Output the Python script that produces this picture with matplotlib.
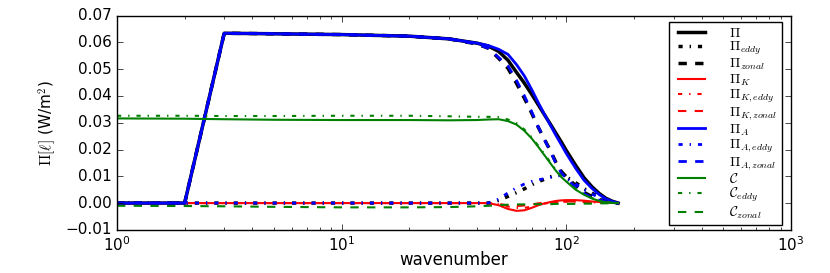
#!/usr/bin/env python3
# -*- coding=utf-8 -*-
import matplotlib
matplotlib.use('Agg')
from matplotlib import pyplot as plt

plt.style.use('classic')
plt.rcParams['mathtext.fontset'] = 'cm'
plt.rcParams['font.family'] = ['DejaVu Sans']

# wavenumber grid
k = [1, 2, 3, 5, 10, 20, 30, 40, 45, 50, 55, 60, 65, 70, 75, 80, 85, 90,
     95, 100, 110, 120, 130, 140, 150, 160, 170]

# total flux and eddy / zonal parts
pi_tot = [0, 0, 0.0634, 0.0632, 0.0629, 0.0623, 0.0613, 0.0597, 0.0586, 0.0566,
          0.0533, 0.0488, 0.0448, 0.0407, 0.0367, 0.0329, 0.0294, 0.0260,
          0.0228, 0.0196, 0.0141, 0.0094, 0.0061, 0.0036, 0.0018, 0.0007, 0]
pi_eddy = [0, 0, 0, 0, 0, 0, 0, 0, 0, 0.0010, 0.0025, 0.0039, 0.0053, 0.0068,
           0.0080, 0.0089, 0.0098, 0.0105, 0.0108, 0.0098, 0.0076, 0.0054,
           0.0037, 0.0023, 0.0012, 0.0005, 0]
pi_zonal = [0, 0, 0.0634, 0.0632, 0.0629, 0.0623, 0.0613, 0.0594, 0.0578, 0.0540,
            0.0503, 0.0447, 0.0392, 0.0337, 0.0283, 0.0237, 0.0195, 0.0151,
            0.0118, 0.0098, 0.0065, 0.0040, 0.0024, 0.0013, 0.0006, 0.0002, 0]

# kinetic part
pik = [0, 0, 0, 0, 0, 0, 0, 0, 0, -0.0008, -0.0022, -0.0029, -0.0027, -0.0018,
       -0.0008, -0.0001, 0.0004, 0.0008, 0.0010, 0.0011, 0.0011, 0.0009,
       0.0006, 0.0004, 0.0002, 0.0001, 0]
pik_eddy = [0, 0, 0, 0, 0, 0, 0, 0, 0, -0.0005, -0.0013, -0.0018, -0.0018,
            -0.0013, -0.0007, -0.0002, 0.0002, 0.0004, 0.0005, 0.0005, 0.0005,
            0.0004, 0.0003, 0.0002, 0.0001, 0, 0]
pik_zonal = [0, 0, 0, 0, 0, 0, 0, 0, 0, -0.0003, -0.0009, -0.0011, -0.0009,
             -0.0005, -0.0001, 0.0001, 0.0002, 0.0004, 0.0005, 0.0006, 0.0006,
             0.0005, 0.0003, 0.0002, 0.0001, 0.0001, 0]

# available potential part
pia = [0, 0, 0.0634, 0.0632, 0.0629, 0.0623, 0.0613, 0.0597, 0.0588, 0.0574,
       0.0555, 0.0517, 0.0475, 0.0425, 0.0375, 0.0330, 0.0290, 0.0252,
       0.0218, 0.0185, 0.0130, 0.0085, 0.0055, 0.0032, 0.0016, 0.0006, 0]
pia_eddy = [0, 0, 0, 0, 0, 0, 0, 0, 0, 0.0015, 0.0038, 0.0057, 0.0071, 0.0081,
            0.0087, 0.0091, 0.0096, 0.0101, 0.0103, 0.0093, 0.0071, 0.0050,
            0.0034, 0.0021, 0.0011, 0.0005, 0]
pia_zonal = [0, 0, 0.0634, 0.0632, 0.0629, 0.0623, 0.0613, 0.0594, 0.0578, 0.0543,
             0.0512, 0.0458, 0.0401, 0.0342, 0.0284, 0.0236, 0.0193, 0.0147,
             0.0113, 0.0092, 0.0059, 0.0035, 0.0021, 0.0011, 0.0005, 0.0001, 0]

# conversion
conv = [0.0316, 0.0315, 0.0313, 0.0311, 0.0310, 0.0310, 0.0309, 0.0310, 0.0312,
        0.0313, 0.0306, 0.0293, 0.0270, 0.0242, 0.0210, 0.0178, 0.0148, 0.0120,
        0.0097, 0.0080, 0.0050, 0.0031, 0.0017, 0.0008, 0.0003, 0.0001, 0]
conv_eddy = [0.0326, 0.0326, 0.0325, 0.0325, 0.0326, 0.0326, 0.0324, 0.0322,
             0.0322, 0.0321, 0.0312, 0.0298, 0.0275, 0.0246, 0.0214, 0.0182,
             0.0152, 0.0123, 0.0100, 0.0083, 0.0053, 0.0033, 0.0019, 0.0009,
             0.0004, 0.0001, 0]
conv_zonal = [-0.0010, -0.0011, -0.0012, -0.0014, -0.0016, -0.0016, -0.0015,
              -0.0012, -0.0010, -0.0008, -0.0006, -0.0005, -0.0005, -0.0004,
              -0.0004, -0.0004, -0.0004, -0.0003, -0.0003, -0.0003, -0.0003,
              -0.0002, -0.0002, -0.0001, -0.0001, 0, 0]

fig = plt.figure(figsize=(8.3, 2.73), dpi=100)
ax = fig.add_axes([0.141, 0.158, 0.812, 0.785])

ax.semilogx(k, pi_tot, 'k-', lw=2.5, label=r'$\Pi$')
ax.semilogx(k, pi_eddy, 'k-.', lw=2.5, label=r'$\Pi_{eddy}$')
ax.semilogx(k, pi_zonal, 'k--', lw=2.5, label=r'$\Pi_{zonal}$')
ax.semilogx(k, pik, 'r-', lw=1.5, label=r'$\Pi_K$')
ax.semilogx(k, pik_eddy, 'r-.', lw=1.5, label=r'$\Pi_{K,eddy}$')
ax.semilogx(k, pik_zonal, 'r--', lw=1.5, label=r'$\Pi_{K,zonal}$')
ax.semilogx(k, pia, 'b-', lw=2, label=r'$\Pi_A$')
ax.semilogx(k, pia_eddy, 'b-.', lw=2, label=r'$\Pi_{A,eddy}$')
ax.semilogx(k, pia_zonal, 'b--', lw=2, label=r'$\Pi_{A,zonal}$')
ax.semilogx(k, conv, 'g-', lw=1.5, label=r'$\mathcal{C}$')
ax.semilogx(k, conv_eddy, 'g-.', lw=1.5, label=r'$\mathcal{C}_{eddy}$')
ax.semilogx(k, conv_zonal, 'g--', lw=1.5, label=r'$\mathcal{C}_{zonal}$')

ax.set_xlim(1, 1000)
ax.set_ylim(-0.01, 0.07)
ax.set_xlabel('wavenumber', fontsize=12, labelpad=-2)
ax.set_ylabel(r'$\Pi[\ell]$ (W/m$^2$)', fontsize=11)
ax.tick_params(labelsize=11)

leg = ax.legend(loc='upper right', bbox_to_anchor=(0.986, 0.972),
                borderaxespad=0, fontsize=10, handlelength=2.6,
                handletextpad=1.4, labelspacing=0.0, borderpad=0.3)

fig.savefig('out.png', dpi=100)
